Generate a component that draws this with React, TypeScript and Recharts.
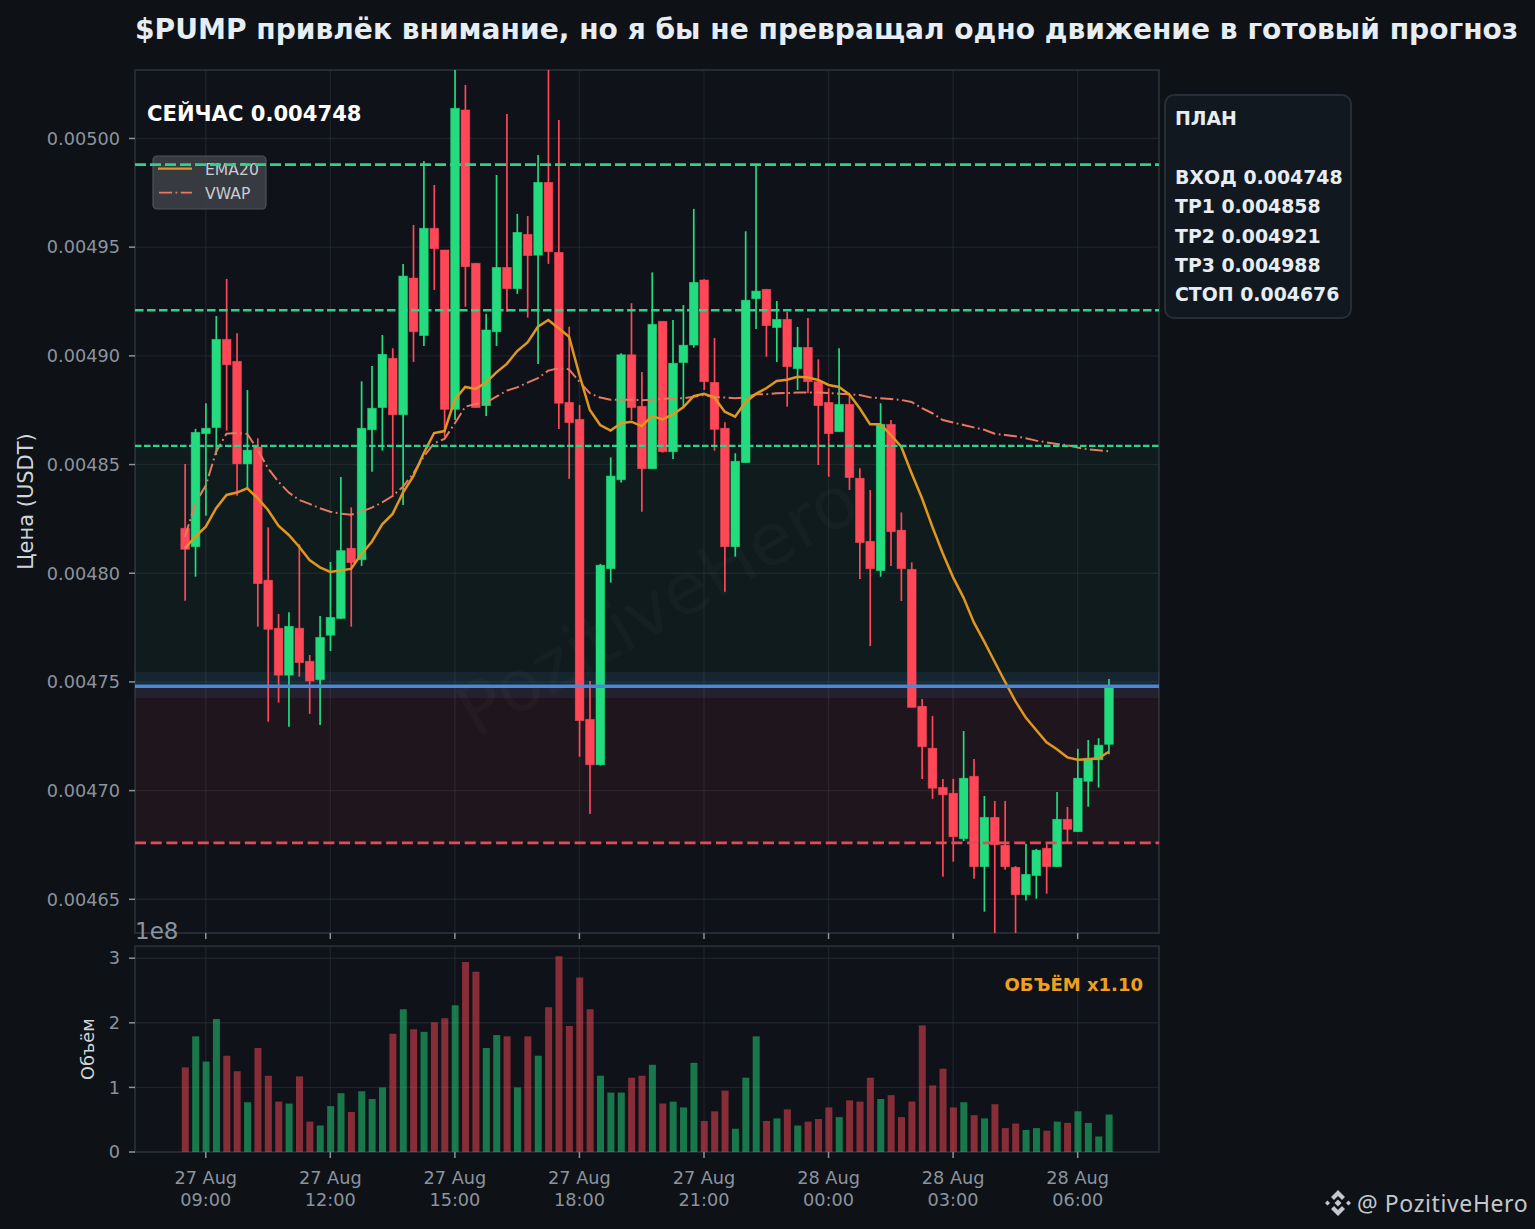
import React from "react";
import {
  ComposedChart,
  Bar,
  Line,
  Cell,
  XAxis,
  YAxis,
  CartesianGrid,
  ReferenceLine,
  ReferenceArea
} from "recharts";

const times = [
  "27 Aug 08:30", "27 Aug 08:45", "27 Aug 09:00", "27 Aug 09:15", "27 Aug 09:30", "27 Aug 09:45",
  "27 Aug 10:00", "27 Aug 10:15", "27 Aug 10:30", "27 Aug 10:45", "27 Aug 11:00", "27 Aug 11:15",
  "27 Aug 11:30", "27 Aug 11:45", "27 Aug 12:00", "27 Aug 12:15", "27 Aug 12:30", "27 Aug 12:45",
  "27 Aug 13:00", "27 Aug 13:15", "27 Aug 13:30", "27 Aug 13:45", "27 Aug 14:00", "27 Aug 14:15",
  "27 Aug 14:30", "27 Aug 14:45", "27 Aug 15:00", "27 Aug 15:15", "27 Aug 15:30", "27 Aug 15:45",
  "27 Aug 16:00", "27 Aug 16:15", "27 Aug 16:30", "27 Aug 16:45", "27 Aug 17:00", "27 Aug 17:15",
  "27 Aug 17:30", "27 Aug 17:45", "27 Aug 18:00", "27 Aug 18:15", "27 Aug 18:30", "27 Aug 18:45",
  "27 Aug 19:00", "27 Aug 19:15", "27 Aug 19:30", "27 Aug 19:45", "27 Aug 20:00", "27 Aug 20:15",
  "27 Aug 20:30", "27 Aug 20:45", "27 Aug 21:00", "27 Aug 21:15", "27 Aug 21:30", "27 Aug 21:45",
  "27 Aug 22:00", "27 Aug 22:15", "27 Aug 22:30", "27 Aug 22:45", "27 Aug 23:00", "27 Aug 23:15",
  "27 Aug 23:30", "27 Aug 23:45", "28 Aug 00:00", "28 Aug 00:15", "28 Aug 00:30", "28 Aug 00:45",
  "28 Aug 01:00", "28 Aug 01:15", "28 Aug 01:30", "28 Aug 01:45", "28 Aug 02:00", "28 Aug 02:15",
  "28 Aug 02:30", "28 Aug 02:45", "28 Aug 03:00", "28 Aug 03:15", "28 Aug 03:30", "28 Aug 03:45",
  "28 Aug 04:00", "28 Aug 04:15", "28 Aug 04:30", "28 Aug 04:45", "28 Aug 05:00", "28 Aug 05:15",
  "28 Aug 05:30", "28 Aug 05:45", "28 Aug 06:00", "28 Aug 06:15", "28 Aug 06:30", "28 Aug 06:45"
];

const opens = [
  0.0048207, 0.0048122, 0.0048642, 0.004867, 0.0049076, 0.0048975, 0.0048503, 0.0048581, 0.0047968, 0.0047747,
  0.0047531, 0.0047747, 0.0047595, 0.004751, 0.0047715, 0.0047792, 0.0048115, 0.0048062, 0.004866, 0.0048762,
  0.0048989, 0.0048729, 0.0049358, 0.0049093, 0.0049587, 0.0049487, 0.0048754, 0.0050131, 0.0049426, 0.0048771,
  0.0049111, 0.0049407, 0.0049309, 0.0049559, 0.0049463, 0.0049798, 0.0049476, 0.0048786, 0.0048708, 0.0047328,
  0.0047119, 0.0048021, 0.004843, 0.0049005, 0.0048768, 0.0048481, 0.0049159, 0.0048559, 0.0048969, 0.004905,
  0.0049349, 0.0048878, 0.0048667, 0.0048122, 0.0048509, 0.0049263, 0.0049306, 0.004913, 0.0049168, 0.0048941,
  0.0049039, 0.0048881, 0.0048786, 0.0048651, 0.0048777, 0.0048437, 0.0048147, 0.0048012, 0.0048685, 0.0048198,
  0.0048018, 0.0047388, 0.0047195, 0.0047015, 0.0046988, 0.0046779, 0.0047066, 0.004665, 0.0046877, 0.0046749,
  0.0046647, 0.0046521, 0.0046609, 0.0046735, 0.004665, 0.0046868, 0.0046811, 0.0047043, 0.0047142, 0.0047213
];
const highs = [
  0.0048503, 0.0048664, 0.0048782, 0.0049183, 0.0049354, 0.0049104, 0.0048843, 0.0048621, 0.0048211, 0.0047813,
  0.004782, 0.0048133, 0.0047624, 0.0047803, 0.0048052, 0.0048443, 0.0048303, 0.0048883, 0.0048953, 0.0049096,
  0.0049035, 0.0049423, 0.0049602, 0.0049896, 0.0049786, 0.0049487, 0.0050333, 0.0050246, 0.0049427, 0.0049193,
  0.0049832, 0.0050113, 0.0049653, 0.0049643, 0.0049924, 0.0050333, 0.0050085, 0.0049134, 0.0048774, 0.0047504,
  0.0048043, 0.0048533, 0.0049012, 0.0049242, 0.0048926, 0.0049384, 0.0049159, 0.0049165, 0.0049234, 0.0049676,
  0.0049352, 0.0049082, 0.0048694, 0.0048552, 0.0049573, 0.0049883, 0.0049308, 0.0049252, 0.0049202, 0.0049133,
  0.0049174, 0.0048984, 0.0048851, 0.0049035, 0.004882, 0.0048483, 0.0048383, 0.0048782, 0.0048705, 0.004828,
  0.004805, 0.0047422, 0.0047343, 0.0047054, 0.0047054, 0.0047274, 0.0047146, 0.0046975, 0.0046952, 0.0046952,
  0.0046653, 0.0046756, 0.0046732, 0.0046755, 0.0046994, 0.0046925, 0.0047192, 0.0047233, 0.0047241, 0.0047514
];
const lows = [
  0.0047874, 0.0047984, 0.0048265, 0.0048544, 0.0048656, 0.0048357, 0.0048392, 0.0047754, 0.0047317, 0.0047405,
  0.0047294, 0.0047524, 0.0047353, 0.0047302, 0.0047642, 0.0047791, 0.0047754, 0.0048033, 0.0048467, 0.0048564,
  0.0048352, 0.0048314, 0.0048972, 0.0049045, 0.0049303, 0.0048628, 0.0048705, 0.0049226, 0.0048762, 0.0048723,
  0.0049045, 0.0049203, 0.0049285, 0.0049176, 0.0048963, 0.0049423, 0.0048664, 0.0048434, 0.0047156, 0.0046893,
  0.0047115, 0.0047957, 0.0048417, 0.0048705, 0.0048283, 0.0048481, 0.0048555, 0.0048526, 0.0048766, 0.0049038,
  0.0048843, 0.0048564, 0.0047915, 0.0048076, 0.0048509, 0.0049124, 0.0048996, 0.0048972, 0.0048766, 0.0048843,
  0.0048829, 0.0048498, 0.0048444, 0.0048651, 0.0048383, 0.0047974, 0.0047665, 0.0047984, 0.0048033, 0.0047872,
  0.0047383, 0.0047054, 0.0046962, 0.0046604, 0.0046673, 0.0046768, 0.0046595, 0.0046443, 0.004634, 0.0046636,
  0.004634, 0.0046494, 0.0046503, 0.0046526, 0.004665, 0.0046762, 0.0046811, 0.0046926, 0.0047014, 0.0047167
];
const closes = [
  0.004811, 0.0048648, 0.0048667, 0.0049076, 0.0048959, 0.0048503, 0.0048566, 0.0047952, 0.0047742, 0.0047531,
  0.0047756, 0.0047589, 0.0047504, 0.0047705, 0.0047797, 0.0048104, 0.0048049, 0.0048667, 0.0048759, 0.0049007,
  0.0048729, 0.0049367, 0.0049111, 0.0049587, 0.0049493, 0.0048754, 0.0050139, 0.004941, 0.0048762, 0.0049119,
  0.0049407, 0.0049309, 0.0049568, 0.0049461, 0.0049798, 0.0049479, 0.0048782, 0.0048693, 0.0047322, 0.0047119,
  0.0048037, 0.0048447, 0.0049005, 0.0048762, 0.0048481, 0.0049145, 0.0048559, 0.0048966, 0.0049049, 0.0049338,
  0.0048881, 0.0048662, 0.0048122, 0.0048515, 0.0049256, 0.0049298, 0.0049139, 0.0049168, 0.004895, 0.0049039,
  0.0048881, 0.0048771, 0.0048642, 0.0048777, 0.004844, 0.0048141, 0.0048021, 0.0048685, 0.0048191, 0.0048021,
  0.0047383, 0.0047202, 0.0047011, 0.0046981, 0.0046788, 0.0047057, 0.004665, 0.0046877, 0.0046751, 0.004665,
  0.0046521, 0.0046615, 0.0046726, 0.004665, 0.0046868, 0.0046822, 0.0047057, 0.0047149, 0.0047209, 0.004748
];
const ema20 = [
  0.0048115, 0.0048168, 0.0048214, 0.0048299, 0.004836, 0.0048371, 0.0048391, 0.0048345, 0.0048291, 0.0048219,
  0.0048176, 0.0048122, 0.0048061, 0.0048027, 0.0048006, 0.0048014, 0.004802, 0.0048089, 0.0048145, 0.0048225,
  0.0048273, 0.0048371, 0.0048447, 0.0048552, 0.0048645, 0.0048654, 0.00488, 0.0048857, 0.0048848, 0.0048877,
  0.0048924, 0.0048963, 0.0049022, 0.0049062, 0.0049134, 0.0049165, 0.0049127, 0.0049088, 0.0048912, 0.0048751,
  0.0048682, 0.0048656, 0.004869, 0.0048697, 0.0048677, 0.0048723, 0.0048708, 0.0048731, 0.0048763, 0.0048815,
  0.0048825, 0.0048808, 0.0048743, 0.004872, 0.0048788, 0.0048825, 0.0048851, 0.0048884, 0.004889, 0.0048904,
  0.0048901, 0.0048889, 0.0048866, 0.0048857, 0.0048823, 0.0048759, 0.0048685, 0.0048685, 0.0048636, 0.0048582,
  0.004846, 0.0048345, 0.0048214, 0.0048092, 0.0047981, 0.0047888, 0.0047774, 0.0047685, 0.0047593, 0.0047501,
  0.0047412, 0.0047336, 0.0047279, 0.0047222, 0.004719, 0.0047153, 0.0047142, 0.0047144, 0.0047149, 0.0047179
];
const vwap = [
  0.0048168, 0.0048322, 0.0048403, 0.0048559, 0.0048642, 0.0048645, 0.0048641, 0.0048567, 0.0048483, 0.0048421,
  0.0048371, 0.0048337, 0.0048319, 0.0048299, 0.0048283, 0.0048274, 0.0048269, 0.0048283, 0.0048302, 0.0048326,
  0.0048355, 0.0048398, 0.004846, 0.0048536, 0.0048598, 0.0048618, 0.004869, 0.0048766, 0.0048779, 0.0048785,
  0.0048812, 0.004884, 0.0048855, 0.0048877, 0.0048897, 0.0048932, 0.0048943, 0.0048938, 0.0048881, 0.0048828,
  0.0048808, 0.0048798, 0.0048798, 0.0048798, 0.0048796, 0.0048798, 0.0048802, 0.0048805, 0.0048805, 0.0048812,
  0.004882, 0.0048812, 0.0048808, 0.0048805, 0.0048809, 0.0048823, 0.0048823, 0.0048828, 0.0048829, 0.0048831,
  0.0048831, 0.0048831, 0.0048829, 0.0048826, 0.0048823, 0.004882, 0.0048809, 0.0048805, 0.0048802, 0.0048797,
  0.0048788, 0.0048759, 0.0048736, 0.0048705, 0.0048693, 0.0048682, 0.0048671, 0.004866, 0.0048642, 0.0048636,
  0.004863, 0.0048621, 0.004861, 0.0048602, 0.0048595, 0.0048589, 0.0048578, 0.004857, 0.0048566, 0.0048561
];
// volume in units of 1e8
const volumes = [
  1.31, 1.79, 1.4, 2.06, 1.49, 1.25, 0.77, 1.61, 1.18, 0.78,
  0.75, 1.17, 0.47, 0.41, 0.71, 0.91, 0.62, 0.94, 0.82, 1.0,
  1.83, 2.21, 1.9, 1.86, 2.01, 2.07, 2.27, 2.94, 2.79, 1.61,
  1.81, 1.79, 1.0, 1.79, 1.49, 2.24, 3.03, 1.95, 2.7, 2.21,
  1.18, 0.92, 0.92, 1.15, 1.18, 1.35, 0.75, 0.78, 0.69, 1.38,
  0.48, 0.63, 0.95, 0.36, 1.15, 1.79, 0.48, 0.52, 0.66, 0.41,
  0.47, 0.51, 0.69, 0.54, 0.8, 0.78, 1.15, 0.82, 0.88, 0.54,
  0.78, 1.96, 1.03, 1.29, 0.69, 0.77, 0.57, 0.52, 0.74, 0.37,
  0.44, 0.34, 0.37, 0.33, 0.47, 0.45, 0.63, 0.45, 0.24, 0.58
];

const priceTicks = [0.00465, 0.0047, 0.00475, 0.0048, 0.00485, 0.0049, 0.00495, 0.005];
const volumeTicks = [0, 1, 2, 3];
const timeTicks = [
  "27 Aug 09:00", "27 Aug 12:00", "27 Aug 15:00", "27 Aug 18:00",
  "27 Aug 21:00", "28 Aug 00:00", "28 Aug 03:00", "28 Aug 06:00"
];
const planLines = ["ПЛАН", "", "ВХОД 0.004748", "TP1 0.004858", "TP2 0.004921", "TP3 0.004988", "СТОП 0.004676"];

const entry = 0.004748;
const tp1 = 0.0048586; // the panel rounds this one down, the line sits a bit higher
const tp2 = 0.004921;
const tp3 = 0.004988;
const stop = 0.004676;
const entryBandLow = 0.0047426;
const entryBandHigh = 0.0047546;

const rows = times.map((time, i) => ({
  time,
  open: opens[i],
  high: highs[i],
  low: lows[i],
  close: closes[i],
  range: [lows[i], highs[i]],
  ema20: ema20[i],
  vwap: vwap[i],
  volume: volumes[i]
}));

const UP = "#22dc7e";
const DOWN = "#ff4757";
const FONT = "'DejaVu Sans', sans-serif";
const TICK = "#8b949e";
const GRID = "#30363d";
const XPAD = { left: 44.8, right: 45 };

function Candle(props: any) {
  const { x, y, width, height, payload } = props;
  const { open, high, low, close } = payload;
  const perUnit = height / (high - low);
  const yOpen = y + (high - open) * perUnit;
  const yClose = y + (high - close) * perUnit;
  const color = close >= open ? UP : DOWN;
  const cx = x + width / 2;
  return (
    <g>
      <line x1={cx} x2={cx} y1={y} y2={y + height} stroke={color} strokeWidth={1.7} />
      <rect
        x={x}
        y={Math.min(yOpen, yClose)}
        width={width}
        height={Math.max(Math.abs(yClose - yOpen), 1)}
        fill={color}
        stroke={color}
        strokeOpacity={0.6}
        strokeWidth={0.8}
      />
    </g>
  );
}

// zones run across the whole plot, not only the padded part of the x axis
function Zone(props: any) {
  const { y, height, fill, fillOpacity } = props;
  return <rect x={135} y={y} width={1024} height={height} fill={fill} fillOpacity={fillOpacity} />;
}

function TimeTick(props: any) {
  const { x, y, payload } = props;
  const value: string = payload.value;
  return (
    <text x={x} textAnchor="middle" fontFamily={FONT} fontSize={17.7} fill={TICK}>
      <tspan x={x} y={y + 24}>{value.slice(0, 6)}</tspan>
      <tspan x={x} y={y + 46}>{value.slice(7)}</tspan>
    </text>
  );
}

const NoTick = () => <g />;

export default function App() {
  return (
    <div
      style={{
        position: "absolute",
        left: 0,
        top: 0,
        width: 1535,
        height: 1229,
        overflow: "hidden",
        background: "#0e1116",
        fontFamily: FONT
      }}
    >
      <div
        style={{
          position: "absolute",
          left: 135,
          top: 13,
          fontSize: 28.1,
          fontWeight: 700,
          color: "#e6edf3",
          whiteSpace: "nowrap"
        }}
      >
        $PUMP привлёк внимание, но я бы не превращал одно движение в готовый прогноз
      </div>

      {/* plot frames */}
      <div style={{ position: "absolute", left: 134, top: 69, width: 1022, height: 861, border: "2px solid #1f262e", background: "#0f1319" }} />
      <div style={{ position: "absolute", left: 134, top: 945, width: 1022, height: 204, border: "2px solid #1f262e", background: "#0f1319" }} />

      <div style={{ position: "absolute", left: 0, top: 0 }}>
        <ComposedChart width={1535} height={950} data={rows} margin={{ top: 70, right: 376, bottom: 0, left: 0 }}>
          <XAxis
            dataKey="time"
            scale="band"
            padding={XPAD}
            ticks={timeTicks}
            interval={0}
            height={17}
            axisLine={false}
            tick={NoTick}
            tickSize={6}
            tickLine={{ stroke: TICK, strokeWidth: 1.5 }}
          />
          <YAxis
            type="number"
            domain={[0.0046345, 0.0050315]}
            allowDataOverflow
            ticks={priceTicks}
            width={135}
            axisLine={false}
            tickSize={6}
            tickMargin={9}
            tickLine={{ stroke: TICK, strokeWidth: 1.5 }}
            tick={{ fill: TICK, fontSize: 17.7, fontFamily: FONT }}
            tickFormatter={(v: number) => v.toFixed(5)}
            label={{
              value: "Цена (USDT)",
              angle: -90,
              position: "insideLeft",
              offset: 26,
              style: { fill: "#d0d5da", fontSize: 21, fontFamily: FONT, textAnchor: "middle" }
            }}
          />
          <ReferenceArea y1={entry} y2={tp1} fill={UP} fillOpacity={0.04} shape={Zone} />
          <ReferenceArea y1={stop} y2={entry} fill={DOWN} fillOpacity={0.07} shape={Zone} />
          <ReferenceArea y1={entryBandLow} y2={entryBandHigh} fill="#4c8bd6" fillOpacity={0.1} shape={Zone} />
          <text
            x={660}
            y={610}
            transform="rotate(-30 660 610)"
            textAnchor="middle"
            dominantBaseline="middle"
            fontFamily={FONT}
            fontSize={72}
            fill="#ffffff"
            fillOpacity={0.022}
          >
            PozitiveHero
          </text>
          <Bar dataKey="range" barSize={8.7} shape={Candle} isAnimationActive={false} />
          <Line dataKey="vwap" type="linear" dot={false} stroke="#e8795f" strokeWidth={2} strokeDasharray="13 3.5 1.8 3.5" isAnimationActive={false} />
          <Line dataKey="ema20" type="linear" dot={false} stroke="#e0961f" strokeWidth={2.5} isAnimationActive={false} />
          <CartesianGrid stroke={GRID} strokeOpacity={0.42} strokeWidth={1.4} />
          <g>
            <rect x={153} y={156} width={113} height={53} rx={4} fill="#3c3e44" fillOpacity={0.92} stroke="#50535a" strokeWidth={1.2} />
            <line x1={158} x2={192} y1={168.7} y2={168.7} stroke="#e0961f" strokeWidth={2.2} />
            <line x1={159} x2={192} y1={192.7} y2={192.7} stroke="#e8795f" strokeWidth={1.7} strokeDasharray="13 3.5 1.8 3.5" />
            <text x={205} y={174.5} fontFamily={FONT} fontSize={15.6} fill="#c9ccd1">EMA20</text>
            <text x={205} y={198.5} fontFamily={FONT} fontSize={15.6} fill="#c9ccd1">VWAP</text>
          </g>
          <ReferenceLine y={tp1} stroke="#2bd488" strokeWidth={2.2} strokeDasharray="6.5 2.5" />
          <ReferenceLine y={tp2} stroke="#2bd488" strokeWidth={2.4} strokeDasharray="8.5 3.5" />
          <ReferenceLine y={tp3} stroke="#2bd488" strokeWidth={2.8} strokeDasharray="11 4" />
          <ReferenceLine y={stop} stroke="#e8485a" strokeWidth={2.8} strokeDasharray="11 4.7" />
          <ReferenceLine y={entry} stroke="#4c88d6" strokeWidth={3.4} />
          <text x={147} y={121} fontFamily={FONT} fontWeight={700} fontSize={21.1} fill="#ffffff">СЕЙЧАС 0.004748</text>
          <text x={135} y={939} fontFamily={FONT} fontSize={23} fill={TICK}>1e8</text>
        </ComposedChart>
      </div>

      <div style={{ position: "absolute", left: 0, top: 930 }}>
        <ComposedChart width={1535} height={299} data={rows} margin={{ top: 16.5, right: 376, bottom: 0, left: 0 }}>
          <XAxis
            dataKey="time"
            scale="band"
            padding={XPAD}
            ticks={timeTicks}
            interval={0}
            height={77}
            axisLine={false}
            tick={TimeTick}
            tickSize={6}
            tickLine={{ stroke: TICK, strokeWidth: 1.5 }}
          />
          <YAxis
            type="number"
            domain={[0, 3.181]}
            allowDataOverflow
            ticks={volumeTicks}
            width={135}
            axisLine={false}
            tickSize={6}
            tickMargin={9}
            tickLine={{ stroke: TICK, strokeWidth: 1.5 }}
            tick={{ fill: TICK, fontSize: 17.7, fontFamily: FONT }}
            label={{
              value: "Объём",
              angle: -90,
              position: "insideLeft",
              offset: 88,
              style: { fill: "#d0d5da", fontSize: 17.7, fontFamily: FONT, textAnchor: "middle" }
            }}
          />
          <Bar dataKey="volume" barSize={7} isAnimationActive={false}>
            {rows.map((r) => (
              <Cell key={r.time} fill={r.close >= r.open ? UP : DOWN} fillOpacity={0.5} />
            ))}
          </Bar>
          <CartesianGrid stroke={GRID} strokeOpacity={0.42} strokeWidth={1.4} />
          <text x={1143} y={61} textAnchor="end" fontFamily={FONT} fontWeight={700} fontSize={18} fill="#f0a020">ОБЪЁМ x1.10</text>
        </ComposedChart>
      </div>

      <div
        style={{
          position: "absolute",
          left: 1164,
          top: 94,
          width: 188,
          height: 225,
          boxSizing: "border-box",
          border: "2px solid #272e38",
          borderRadius: 10,
          background: "#111820",
          padding: "8px 0 0 9px",
          fontSize: 18.9,
          fontWeight: 700,
          lineHeight: "29.4px",
          color: "#e6edf3",
          whiteSpace: "pre"
        }}
      >
        {planLines.map((line, i) => (
          <div key={i} style={{ height: 29.4 }}>{line}</div>
        ))}
      </div>

      <svg style={{ position: "absolute", left: 1324, top: 1189 }} width={28} height={28} viewBox="0 0 28 28">
        <path
          d="M14 1 L21 8 L18 11 L14 7 L10 11 L7 8 Z M14 27 L7 20 L10 17 L14 21 L18 17 L21 20 Z M3.5 11.5 L6 14 L3.5 16.5 L1 14 Z M24.5 11.5 L27 14 L24.5 16.5 L22 14 Z M14 10.5 L17.5 14 L14 17.5 L10.5 14 Z"
          fill="#c4c8cd"
        />
      </svg>
      <div
        style={{
          position: "absolute",
          left: 1357,
          top: 1187,
          fontFamily: "'Noto Sans', sans-serif",
          fontSize: 23,
          color: "#c4c8cd",
          letterSpacing: 0.6,
          whiteSpace: "nowrap"
        }}
      >
        @ PozitiveHero
      </div>
    </div>
  );
}
